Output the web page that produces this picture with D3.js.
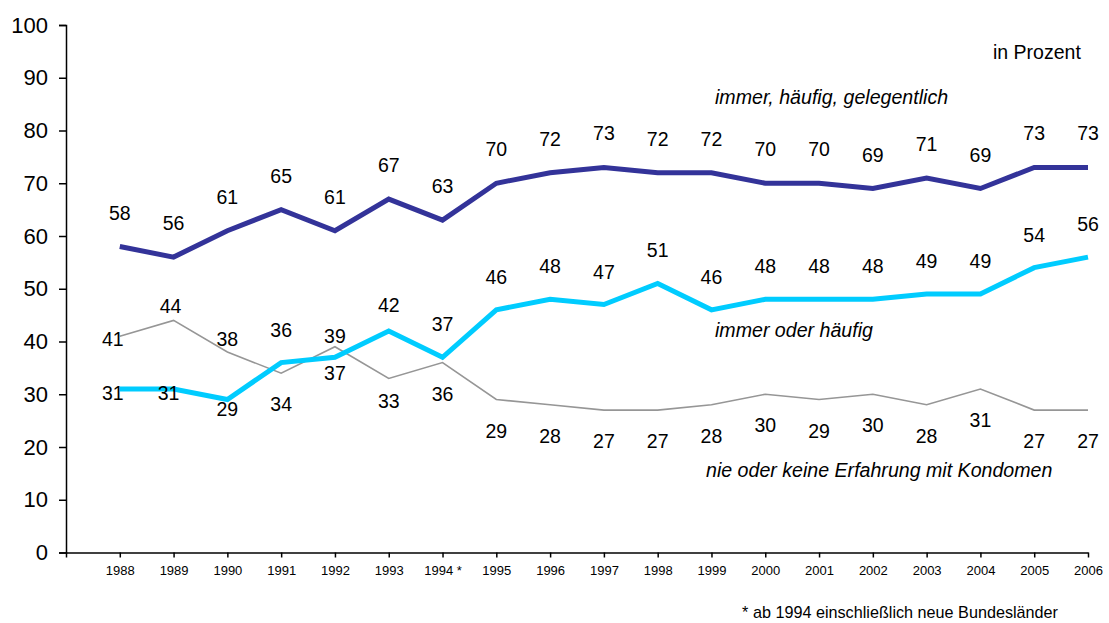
<!DOCTYPE html>
<html>
<head>
<meta charset="utf-8">
<script src="https://cdn.jsdelivr.net/npm/d3@7"></script>
<style>
  html, body { margin: 0; padding: 0; background: #fff; }
  svg { display: block; font-family: Arial, "Liberation Sans", sans-serif; }
</style>
</head>
<body>
<svg id="chart" width="1109" height="623"></svg>
<script>
// Years surveyed (1994 onwards includes the new federal states)
const years = [1988, 1989, 1990, 1991, 1992, 1993, 1994, 1995, 1996, 1997, 1998, 1999, 2000, 2001, 2002, 2003, 2004, 2005, 2006];
const yearLabels = ["1988", "1989", "1990", "1991", "1992", "1993", "1994 *", "1995", "1996", "1997", "1998", "1999", "2000", "2001", "2002", "2003", "2004", "2005", "2006"];

// Condom use, in percent
const immerHaeufigGelegentlich = [58, 56, 61, 65, 61, 67, 63, 70, 72, 73, 72, 72, 70, 70, 69, 71, 69, 73, 73];
const immerOderHaeufig         = [31, 31, 29, 36, 37, 42, 37, 46, 48, 47, 51, 46, 48, 48, 48, 49, 49, 54, 56];
const nieOderKeineErfahrung    = [41, 44, 38, 34, 39, 33, 36, 29, 28, 27, 27, 28, 30, 29, 30, 28, 31, 27, 27];

const yTicks = [0, 10, 20, 30, 40, 50, 60, 70, 80, 90, 100];

const svg = d3.select("#chart");

const x = d3.scaleLinear().domain([1987, 2006]).range([66, 1088]);
const y = d3.scaleLinear().domain([0, 100]).range([552.5, 25]);

// Y axis
const yAxis = d3.axisLeft(y).tickValues(yTicks).tickSize(7).tickPadding(11);
const gy = svg.append("g").attr("transform", "translate(66,0)").call(yAxis);
gy.select(".domain").attr("stroke", "#000").attr("stroke-width", 1.5);
gy.selectAll(".tick line").attr("stroke", "#000").attr("stroke-width", 1.5);
gy.selectAll(".tick text").attr("font-size", 22).attr("font-family", "Arial, 'Liberation Sans', sans-serif").attr("fill", "#000");

// X axis (tick at the origin plus one per year)
const xAxis = d3.axisBottom(x)
  .tickValues([1987].concat(years))
  .tickSize(5)
  .tickSizeOuter(0)
  .tickPadding(8)
  .tickFormat(d => d === 1987 ? "" : yearLabels[years.indexOf(d)]);
const gx = svg.append("g").attr("transform", "translate(0,552.5)").call(xAxis);
gx.select(".domain").attr("stroke", "#000").attr("stroke-width", 1.5);
gx.selectAll(".tick line").attr("stroke", "#000").attr("stroke-width", 1.5);
gx.selectAll(".tick text").attr("font-size", 13).attr("font-family", "Arial, 'Liberation Sans', sans-serif").attr("fill", "#000");

const line = d3.line().x((d, i) => x(years[i])).y(d => y(d));

const series = [
  { values: nieOderKeineErfahrung, color: "#969696", width: 1.6,
    dy: [3, -14, -13, 31, -11, 23, 31, 31, 31, 31, 31, 31, 31, 31, 31, 31, 31, 31, 31],
    dx: [-7, -3, 0, 0, 0, 0, 0, 0, 0, 0, 0, 0, 0, 0, 0, 0, 0, 0, 0] },
  { values: immerOderHaeufig, color: "#00CCFF", width: 5,
    dy: [4, 4, 9, -33, 16, -26, -33, -33, -33, -33, -33, -33, -33, -33, -33, -33, -33, -33, -33],
    dx: [-7, -5, 0, 0, 0, 0, 0, 0, 0, 0, 0, 0, 0, 0, 0, 0, 0, 0, 0] },
  { values: immerHaeufigGelegentlich, color: "#333399", width: 5,
    dy: years.map(() => -34),
    dx: years.map(() => 0) }
];

series.forEach(s => {
  svg.append("path")
    .datum(s.values)
    .attr("d", line)
    .attr("fill", "none")
    .attr("stroke", s.color)
    .attr("stroke-width", s.width)
    .attr("stroke-linejoin", "miter");
});

// Value labels
series.forEach(s => {
  svg.append("g").selectAll("text")
    .data(s.values)
    .join("text")
    .attr("x", (d, i) => x(years[i]) + s.dx[i])
    .attr("y", (d, i) => y(d) + s.dy[i])
    .attr("text-anchor", "middle")
    .attr("dominant-baseline", "central")
    .attr("font-size", 19.5)
    .attr("fill", "#000")
    .text(d => d);
});

// Series names
const seriesNames = [
  { text: "immer, häufig, gelegentlich", x: 715, y: 97 },
  { text: "immer oder häufig", x: 715, y: 330 },
  { text: "nie oder keine Erfahrung mit Kondomen", x: 706, y: 470 }
];
svg.append("g").selectAll("text")
  .data(seriesNames)
  .join("text")
  .attr("x", d => d.x)
  .attr("y", d => d.y)
  .attr("dominant-baseline", "central")
  .attr("font-size", 19.6)
  .attr("font-style", "italic")
  .attr("fill", "#000")
  .text(d => d.text);

svg.append("text")
  .attr("x", 993).attr("y", 52)
  .attr("dominant-baseline", "central")
  .attr("font-size", 19.5)
  .attr("fill", "#000")
  .text("in Prozent");

svg.append("text")
  .attr("x", 1058).attr("y", 612)
  .attr("text-anchor", "end")
  .attr("dominant-baseline", "central")
  .attr("font-size", 16.2)
  .attr("fill", "#000")
  .text("* ab 1994 einschließlich neue Bundesländer");
</script>
</body>
</html>
